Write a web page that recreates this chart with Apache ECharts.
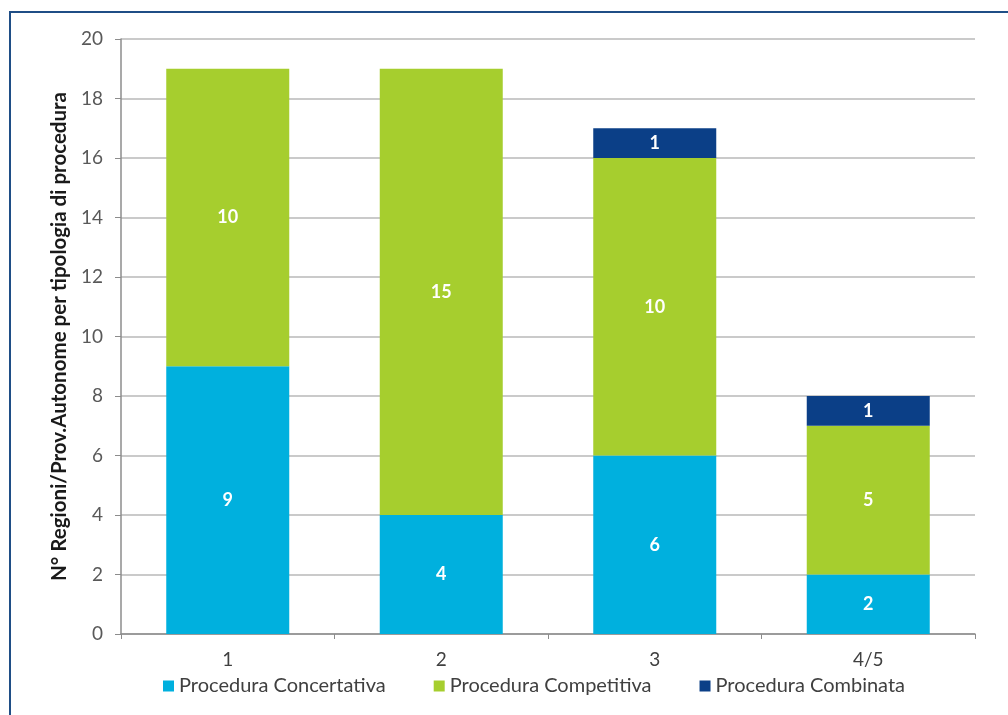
<!DOCTYPE html>
<html>
<head>
<meta charset="utf-8">
<script src="https://cdn.jsdelivr.net/npm/echarts@6/dist/echarts.min.js"></script>
<style>
  html, body { margin: 0; padding: 0; background: #ffffff; }
  #frame {
    position: absolute; left: 9px; top: 11px; width: 1100px; height: 800px;
    border-left: 2px solid #1F4E86; border-top: 2px solid #1F4E86;
  }
  #chart { position: absolute; left: 0; top: 0; width: 1008px; height: 715px; }
</style>
</head>
<body>
<div id="frame"></div>
<div id="chart"></div>
<script>
// Number of Regions / Autonomous Provinces by procedure type
const categories = ['1', '2', '3', '4/5'];
const concertativa = [9, 4, 6, 2];
const competitiva = [10, 15, 10, 5];
const combinata = [0, 0, 1, 1];
const seriesNames = ['Procedura Concertativa', 'Procedura Competitiva', 'Procedura Combinata'];
const colors = ['#00B0DE', '#A6CE2E', '#0B3F87'];

const font = 'Lato, "Open Sans", sans-serif';

function barSeries(name, values, color) {
  return {
    name: name,
    type: 'bar',
    stack: 'tot',
    data: values,
    barWidth: 123,
    itemStyle: { color: color },
    label: {
      show: true,
      position: 'inside',
      color: '#ffffff',
      fontWeight: 'bold',
      fontSize: 18,
      fontFamily: font,
      formatter: p => (p.value ? String(p.value) : '')
    }
  };
}

const chart = echarts.init(document.getElementById('chart'), null, { renderer: 'canvas' });
chart.setOption({
  animation: false,
  color: colors,
  grid: { left: 121, right: 33, top: 39, bottom: 81, containLabel: false },
  legend: {
    bottom: 14,
    left: 158,
    itemWidth: 11,
    itemHeight: 11,
    itemGap: 48,
    icon: 'rect',
    textStyle: { color: '#404040', fontSize: 20, fontFamily: font },
    data: seriesNames
  },
  xAxis: {
    type: 'category',
    data: categories,
    axisLine: { lineStyle: { color: '#8c8c8c', width: 1.5 } },
    axisTick: { show: true, length: 5, lineStyle: { color: '#8c8c8c' } },
    axisLabel: { color: '#404040', fontSize: 19, fontFamily: font, margin: 16 }
  },
  yAxis: {
    type: 'value',
    min: 0,
    max: 20,
    interval: 2,
    name: 'N° Regioni/Prov.Autonome per tipologia di procedura',
    nameLocation: 'middle',
    nameGap: 50,
    nameTextStyle: { color: '#1a1a1a', fontWeight: 'bold', fontSize: 20.5, fontFamily: font },
    axisLine: { show: true, lineStyle: { color: '#8c8c8c', width: 1.5 } },
    axisTick: { show: true, length: 6, lineStyle: { color: '#8c8c8c' } },
    axisLabel: { color: '#595959', fontSize: 19, fontFamily: font, margin: 18 },
    splitLine: { lineStyle: { color: '#b8b8b8', width: 1.5 } }
  },
  series: [
    barSeries(seriesNames[0], concertativa, colors[0]),
    barSeries(seriesNames[1], competitiva, colors[1]),
    barSeries(seriesNames[2], combinata, colors[2])
  ]
});
</script>
</body>
</html>
